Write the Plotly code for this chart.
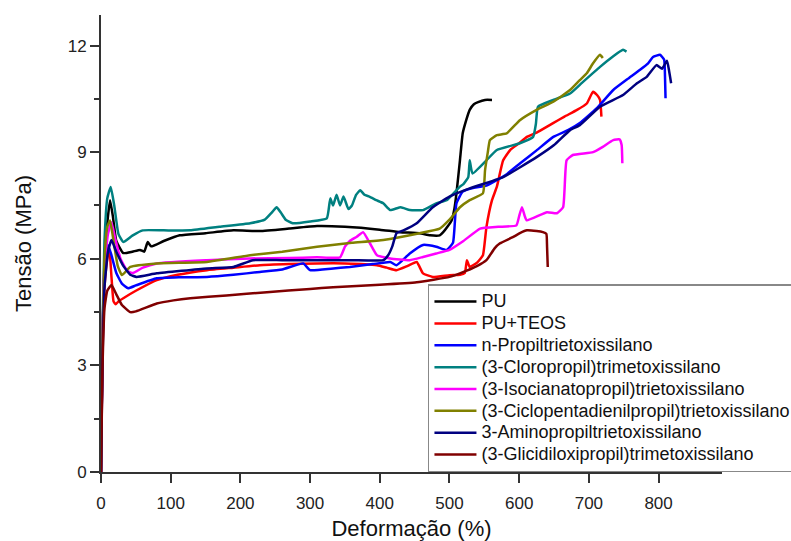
import plotly.graph_objects as go

# ---------------- data ----------------
names = [
    "PU",
    "PU+TEOS",
    "n-Propiltrietoxissilano",
    "(3-Cloropropil)trimetoxissilano",
    "(3-Isocianatopropil)trietoxissilano",
    "(3-Ciclopentadienilpropil)trietoxissilano",
    "3-Aminopropiltrietoxissilano",
    "(3-Glicidiloxipropil)trimetoxissilano",
]
colors = ["#000000", "#FF0000", "#0000FF", "#008080", "#FF00FF", "#808000", "#000080", "#800000"]

pu_x = [0, 2, 5, 9, 13, 17, 22, 32, 45, 56, 62, 67, 72, 90, 113, 150, 190, 228, 270, 310, 350, 400,
        429, 457, 472, 486, 491, 497, 503, 507, 510, 515, 519, 524, 529, 535, 541, 551, 561]
pu_y = [0, 3.5, 5.8, 7.0, 7.65, 7.2, 6.5, 6.16, 6.2, 6.25, 6.2, 6.47, 6.35, 6.5, 6.66, 6.72, 6.8, 6.78,
        6.85, 6.92, 6.9, 6.82, 6.75, 6.72, 6.66, 6.66, 6.75, 6.9, 7.08, 7.4, 7.84, 8.77, 9.53, 9.9, 10.19,
        10.35, 10.41, 10.47, 10.47]

teos_x = [0, 2, 5, 9, 12, 15, 18, 21, 25, 32, 50, 80, 110, 152, 190, 228, 270, 310, 350, 396, 410, 424,
          440, 453, 462, 476, 500, 515, 522, 525, 529, 540, 548, 553, 561, 568, 577, 587, 600, 611, 625,
          648, 665, 683, 697, 706, 712, 716, 718]
teos_y = [0, 3.2, 5.2, 6.0, 6.3, 5.5, 4.8, 4.72, 4.8, 4.89, 5.1, 5.4, 5.55, 5.68, 5.75, 5.82, 5.85, 5.87,
          5.87, 5.82, 5.75, 5.68, 5.8, 5.91, 5.59, 5.49, 5.54, 5.55, 5.6, 5.96, 5.77, 5.9, 6.1, 6.89, 7.65,
          8.03, 8.77, 9.06, 9.25, 9.43, 9.55, 9.81, 10.0, 10.19, 10.37, 10.70, 10.6, 10.47, 10.0]

prop_x = [0, 2, 5, 10, 15, 22, 30, 39, 50, 80, 115, 152, 190, 228, 260, 290, 300, 330, 357, 390, 415,
          424, 443, 462, 481, 496, 505, 510, 519, 535, 553, 580, 601, 625, 649, 670, 687, 711, 735, 755,
          773, 785, 792, 802, 808, 809, 810]
prop_y = [0, 3.5, 5.6, 6.39, 6.1, 5.6, 5.3, 5.17, 5.25, 5.45, 5.48, 5.49, 5.55, 5.63, 5.7, 5.87, 5.68,
          5.72, 5.77, 5.85, 5.91, 5.82, 6.15, 6.39, 6.34, 6.25, 6.45, 7.56, 7.89, 8.0, 8.06, 8.35, 8.68,
          9.05, 9.43, 9.62, 9.82, 10.23, 10.75, 11.05, 11.31, 11.5, 11.68, 11.74, 11.6, 11.3, 10.52]

clor_x = [0, 2, 5, 9, 14, 19, 25, 32, 45, 60, 90, 128, 170, 214, 235, 245, 252, 258, 265, 275, 300, 324,
          329, 333, 338, 343, 348, 355, 360, 366, 372, 378, 385, 395, 405, 415, 430, 443, 462, 481, 496,
          515, 520, 527, 529, 533, 553, 568, 601, 620, 624, 627, 649, 673, 690, 716, 735, 749, 754]
clor_y = [0, 3.8, 6.5, 7.7, 8.02, 7.5, 6.7, 6.47, 6.65, 6.8, 6.8, 6.8, 6.9, 7.0, 7.1, 7.3, 7.45, 7.3,
          7.1, 7.0, 7.05, 7.14, 7.7, 7.5, 7.8, 7.5, 7.75, 7.4, 7.5, 7.8, 7.93, 7.8, 7.75, 7.65, 7.56, 7.37,
          7.45, 7.37, 7.37, 7.56, 7.65, 8.03, 8.1, 8.3, 8.77, 8.4, 8.77, 9.06, 9.25, 9.43, 9.8, 10.28,
          10.47, 10.65, 10.95, 11.4, 11.7, 11.88, 11.83]

iso_x = [0, 2, 5, 10, 15, 20, 28, 38, 46, 60, 80, 152, 214, 270, 310, 343, 350, 357, 367, 376, 386, 396,
         415, 443, 462, 481, 500, 520, 544, 570, 596, 600, 604, 608, 611, 640, 654, 663, 668, 677, 706,
         720, 735, 744, 747, 748]
iso_y = [0, 3.5, 5.8, 6.7, 7.03, 6.6, 6.0, 5.65, 5.6, 5.75, 5.87, 5.96, 6.01, 6.02, 6.04, 6.04, 6.34,
         6.5, 6.62, 6.75, 6.43, 6.1, 6.01, 5.96, 6.05, 6.15, 6.25, 6.5, 6.85, 6.9, 6.94, 7.2, 7.45, 7.2,
         7.08, 7.31, 7.28, 7.45, 8.77, 8.92, 9.0, 9.15, 9.34, 9.36, 9.2, 8.69]

cic_x = [0, 2, 5, 9, 13, 18, 24, 30, 42, 80, 152, 214, 260, 310, 360, 405, 457, 486, 500, 515, 529, 548,
         551, 555, 558, 568, 582, 601, 625, 649, 673, 687, 697, 706, 716, 720]
cic_y = [0, 3.6, 6.0, 6.9, 7.08, 6.5, 5.8, 5.54, 5.77, 5.87, 5.91, 6.1, 6.2, 6.34, 6.45, 6.53, 6.72, 6.85,
         7.1, 7.45, 7.65, 7.84, 8.49, 9.0, 9.34, 9.48, 9.53, 9.9, 10.19, 10.42, 10.75, 11.03, 11.22, 11.5,
         11.74, 11.65]

ami_x = [0, 2, 5, 10, 15, 22, 32, 42, 51, 80, 152, 190, 218, 260, 310, 360, 405, 412, 418, 424, 434, 453,
         476, 500, 529, 577, 625, 650, 673, 687, 716, 749, 769, 783, 797, 805, 812, 815, 818]
ami_y = [0, 3.0, 5.2, 6.2, 6.53, 6.2, 5.8, 5.55, 5.49, 5.59, 5.73, 5.77, 5.96, 5.96, 5.96, 5.96, 5.96,
         6.1, 6.35, 6.72, 6.8, 7.0, 7.45, 7.75, 7.98, 8.3, 8.86, 9.2, 9.62, 9.76, 10.28, 10.61, 10.94,
         11.12, 11.45, 11.35, 11.57, 11.3, 10.94]

gli_x = [0, 2, 5, 9, 15, 22, 30, 42, 50, 80, 104, 128, 180, 238, 300, 333, 400, 453, 500, 515, 540, 553,
         565, 572, 590, 601, 611, 625, 634, 639, 640, 641]
gli_y = [0, 2.8, 4.6, 5.1, 5.26, 5.0, 4.7, 4.5, 4.52, 4.74, 4.83, 4.89, 4.97, 5.06, 5.15, 5.2, 5.27,
         5.34, 5.49, 5.59, 5.8, 5.96, 6.3, 6.43, 6.6, 6.72, 6.8, 6.78, 6.75, 6.7, 6.34, 5.77]

series_x = [pu_x, teos_x, prop_x, clor_x, iso_x, cic_x, ami_x, gli_x]
series_y = [pu_y, teos_y, prop_y, clor_y, iso_y, cic_y, ami_y, gli_y]

x_ticks = [0, 100, 200, 300, 400, 500, 600, 700, 800]
y_ticks = [0, 3, 6, 9, 12]
y_minor = [1.5, 4.5, 7.5, 10.5]

# ---------------- figure ----------------
FONT = "Liberation Sans, Arial, sans-serif"
fig = go.Figure()
for nm, c, xs, ys in zip(names, colors, series_x, series_y):
    fig.add_trace(go.Scatter(x=xs, y=ys, mode="lines",
                             name='<span style="font-size:18px">' + nm + '</span>',
                             line=dict(color=c, width=2.5, shape="spline", smoothing=0.4)))

axis_common = dict(showline=True, linecolor="#333333", linewidth=2, ticks="outside", ticklen=9,
                   tickwidth=1.5, tickcolor="#333333", showgrid=False, zeroline=False,
                   automargin=False,
                   tickfont=dict(family=FONT, size=17, color="#222222"))

fig.update_layout(
    width=791, height=541,
    margin=dict(l=101, r=69, t=15, b=69, autoexpand=False),
    paper_bgcolor="white", plot_bgcolor="white",
    font=dict(family=FONT, color="#111111"),
    xaxis=dict(range=[0, 891], tickvals=x_ticks, ticktext=[str(v) for v in x_ticks],
               ticklabelstandoff=6,
               title=dict(text="Deformação (%)", font=dict(family=FONT, size=22, color="#111111"),
                          standoff=18),
               **axis_common),
    yaxis=dict(range=[0, 12.86], tickvals=y_ticks, ticktext=[str(v) for v in y_ticks],
               minor=dict(ticks="outside", ticklen=5, tickwidth=1.5, tickcolor="#333333",
                          tickvals=y_minor),
               title=dict(text="Tensão (MPa)", font=dict(family=FONT, size=22, color="#111111"),
                          standoff=30),
               **axis_common),
    legend=dict(x=0.5265, y=0.411, xanchor="left", yanchor="top",
                bgcolor="white", bordercolor="#888888", borderwidth=1.5,
                font=dict(family=FONT, size=14.5, color="#111111"),
                itemwidth=42, tracegroupgap=0),
    showlegend=True,
)

fig.write_html("out.html")
